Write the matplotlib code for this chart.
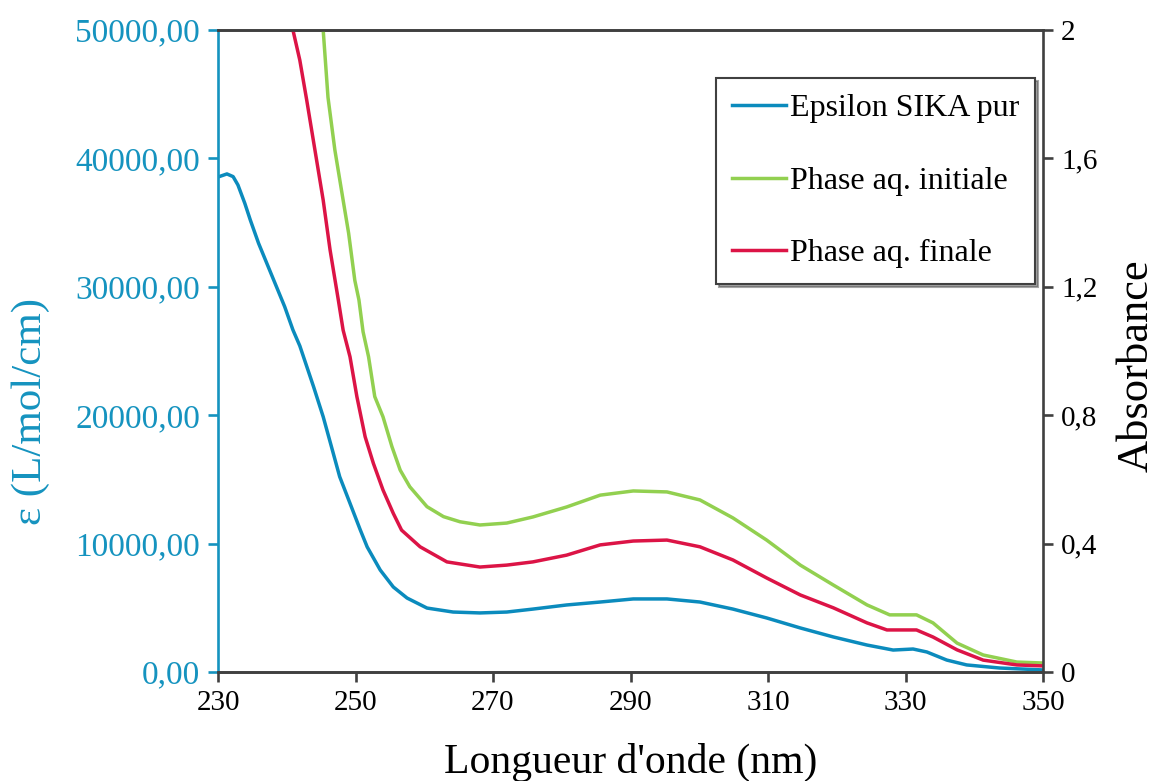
import numpy as np
from matplotlib import pyplot as plt
from matplotlib.ticker import FuncFormatter

# ----------------data-------------------------------------------------------

# epsilon of pure SIKA (left axis)
blue_nm = [230, 231.3, 232.2, 232.9, 233.9, 234.7, 235.9, 237.1, 238.5, 239.7, 240.9, 241.9,
           243.9, 245.3, 246.5, 247.7, 249.2, 250.7, 251.7, 253.6, 255.5, 257.5, 260.4, 264.2,
           268.1, 272, 275.8, 280.7, 285.6, 290.4, 295.3, 300.1, 304.9, 309.8, 314.7, 319.5,
           324.4, 328.2, 331.1, 333.1, 336, 338.9, 343.7, 350]
blue_eps = [38550, 38790, 38580, 37930, 36500, 35200, 33390, 31830, 30010, 28450, 26640, 25400,
            22220, 19880, 17550, 15210, 13140, 11060, 9740, 7940, 6620, 5760, 4980, 4670,
            4600, 4670, 4900, 5220, 5450, 5690, 5690, 5450, 4900, 4210, 3430, 2730,
            2100, 1710, 1790, 1560, 930, 550, 310, 160]

# absorbance, initial aqueous phase (right axis)
green_nm = [245.3, 246.0, 247.0, 248.2, 249.0, 249.9, 250.5, 251.1, 251.9, 252.8, 254.0, 255.3,
            256.5, 257.9, 260.4, 262.8, 265.2, 268.1, 272, 275.8, 280.7, 285.6, 290.4, 295.3,
            300.1, 304.9, 309.8, 314.7, 319.5, 324.4, 327.7, 331.6, 334, 337.5, 341.3, 346.2, 350]
green_abs = [2.0, 1.79, 1.626, 1.47, 1.367, 1.22, 1.159, 1.06, 0.982, 0.858, 0.795, 0.702,
             0.629, 0.577, 0.515, 0.484, 0.468, 0.458, 0.464, 0.483, 0.514, 0.551, 0.564, 0.561,
             0.536, 0.48, 0.411, 0.333, 0.271, 0.209, 0.178, 0.178, 0.153, 0.09, 0.053, 0.031, 0.028]

# absorbance, final aqueous phase (right axis)
red_nm = [240.9, 241.9, 242.9, 244.1, 245.3, 246.3, 247.5, 248.2, 249.2, 250.2, 251.4, 252.6,
          254.0, 255.5, 256.7, 259.4, 263.3, 268.1, 272, 275.8, 280.7, 285.6, 290.4, 295.3,
          300.1, 304.9, 309.8, 314.7, 319.5, 324.4, 327.3, 331.6, 334, 337.5, 341.3, 346.2, 350]
red_abs = [2.0, 1.906, 1.782, 1.626, 1.47, 1.315, 1.159, 1.065, 0.982, 0.858, 0.733, 0.65,
           0.567, 0.494, 0.442, 0.39, 0.343, 0.327, 0.333, 0.343, 0.364, 0.396, 0.408, 0.411,
           0.39, 0.349, 0.293, 0.24, 0.2, 0.153, 0.131, 0.131, 0.109, 0.069, 0.037, 0.022, 0.019]

labels = ['Epsilon SIKA pur', 'Phase aq. initiale', 'Phase aq. finale']
x_ticks = [230, 250, 270, 290, 310, 330, 350]
eps_ticks = [0, 10000, 20000, 30000, 40000, 50000]
abs_ticks = [0, 0.4, 0.8, 1.2, 1.6, 2]

# ----------------style--------------------------------
plt.rcParams['font.family'] = ['Liberation Serif', 'DejaVu Serif']
teal = '#1593bf'
blue = '#0b8bbd'
green = '#92d050'
red = '#dc1446'
dark = '#404040'

fig = plt.figure(figsize=(11.62, 7.81), dpi=100)
ax = fig.add_axes([218 / 1162, 1 - 672 / 781, 825 / 1162, 642 / 781])
ax2 = ax.twinx()

l1, = ax.plot(blue_nm, blue_eps, color=blue, lw=2.5)
l2, = ax2.plot(green_nm, green_abs, color=green, lw=2.5)
l3, = ax2.plot(red_nm, red_abs, color=red, lw=2.5)

ax.set_xlim(230, 350)
ax.set_ylim(0, 50000)
ax2.set_ylim(0, 2)
ax.set_xticks(x_ticks)
ax.set_yticks(eps_ticks)
ax2.set_yticks(abs_ticks)

ax.yaxis.set_major_formatter(FuncFormatter(lambda v, p: f'{v:.2f}'.replace('.', ',')))
ax2.yaxis.set_major_formatter(FuncFormatter(
    lambda v, p: f'{int(round(v))}' if abs(v - round(v)) < 1e-9 else f'{v:.1f}'.replace('.', ',')))

# spines
for a in (ax, ax2):
    for s in a.spines.values():
        s.set_linewidth(1.9)
        s.set_color(dark)
ax.spines['right'].set_visible(False)
ax2.spines['left'].set_visible(False)
ax.spines['left'].set_color(teal)

ax.tick_params(axis='x', direction='out', length=7, width=1.9, color=dark,
               labelsize=21, pad=6, labelcolor='black')
ax.tick_params(axis='y', direction='out', length=7, width=1.9, color=teal,
               labelsize=24, labelcolor=teal, pad=6)
ax2.tick_params(axis='y', direction='out', length=7, width=1.9, color=dark,
                labelsize=21, labelcolor='black', pad=6)

ax.set_xlabel("Longueur d'onde (nm)", fontsize=30)
ax.xaxis.set_label_coords(0.5, -0.11)
ax.set_ylabel('ε (L/mol/cm)', fontsize=31, color=teal)
ax.yaxis.set_label_coords(-0.204, 0.405)
ax2.set_ylabel('Absorbance', fontsize=32)
ax2.yaxis.set_label_coords(1.089, 0.477)

leg = ax2.legend([l1, l2, l3], labels, loc='upper right', bbox_to_anchor=(0.99, 0.925),
                 fontsize=23, frameon=True, fancybox=False, shadow=True,
                 handlelength=1.7, handletextpad=0.1, labelspacing=1.35,
                 borderpad=0.5, borderaxespad=0)
leg.get_frame().set_edgecolor(dark)
leg.get_frame().set_linewidth(1.5)

plt.savefig('out.png', dpi=100)
